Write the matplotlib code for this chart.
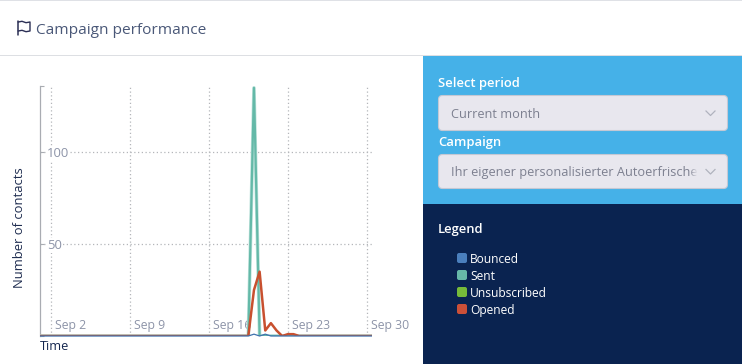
import matplotlib
matplotlib.use("Agg")
import matplotlib.pyplot as plt
import pandas as pd
from matplotlib.patches import FancyBboxPatch, Rectangle
from matplotlib.transforms import ScaledTranslation

plt.rcParams['font.family'] = ['Open Sans', 'DejaVu Sans']

# ---- data ----
dates = ["2019-09-01 00:00", "2019-09-19 11:00", "2019-09-19 23:00", "2019-09-20 11:00",
         "2019-09-20 23:00", "2019-09-21 11:00", "2019-09-21 23:00", "2019-09-22 11:00",
         "2019-09-22 23:00", "2019-09-23 11:00", "2019-09-23 23:00", "2019-09-30 10:00"]
sent         = [0, 0, 135, 0, 0, 0, 0, 0, 0, 0, 0, 0]
opened       = [0, 0, 25, 35, 3, 7, 3, 0, 1, 1, 0, 0]
bounced      = [0, 0, 1, 0, 1, 0, 0, 0, 0, 0, 0, 0]
unsubscribed = [0, 0, 0, 0, 0, 0, 0, 0, 0, 0, 0, 0]

x_ticks = ["2019-09-02", "2019-09-09", "2019-09-16", "2019-09-23", "2019-09-30"]
x_tick_labels = ["Sep 2", "Sep 9", "Sep 16", "Sep 23", "Sep 30"]
y_ticks = [50, 100]
legend_labels = ["Bounced", "Sent", "Unsubscribed", "Opened"]
legend_colors = ["#4a7fbd", "#66b8a8", "#77bb3a", "#cc5038"]

W, H = 742, 364
fig = plt.figure(figsize=(W / 100, H / 100), dpi=100, facecolor="white")

# ---- page furniture, in pixel coordinates ----
ui = fig.add_axes([0, 0, 1, 1], zorder=0)
ui.set_xlim(0, W)
ui.set_ylim(H, 0)
ui.axis("off")
px = 0.72

ui.add_patch(Rectangle((0, 0), W, 1.2, fc="#dfe1e6", ec="none"))
ui.add_patch(Rectangle((0, 55), W, 1.2, fc="#dddfe3", ec="none"))
ui.add_patch(Rectangle((423, 56), W - 423, 148, fc="#45b1e8", ec="none"))
ui.add_patch(Rectangle((423, 204), W - 423, 160, fc="#0a2350", ec="none"))

# header
ui.plot([18.4, 18.4], [21, 34.5], color="#2b2f55", lw=1.1, solid_capstyle="round")
ui.plot([18.4, 22, 26, 30, 30, 26, 22, 18.4], [22, 21.3, 22.7, 22, 31, 31.7, 30.3, 31],
        color="#2b2f55", lw=1.0)
ui.text(36.5, 30, "Campaign performance", fontsize=15.4 * px, color="#4a5878", va="center", ha="left")

# controls
def dropdown(y0, y1, text, fade_x=None):
    ui.add_patch(FancyBboxPatch((438.5 + 3, y0 + 3), 289 - 6, y1 - y0 - 6,
                                boxstyle="round,pad=3,rounding_size=4",
                                fc="#e8e7ee", ec="#c4c8d4", lw=0.8))
    cy = (y0 + y1) / 2
    ui.text(451, cy + 1, text, fontsize=12.8 * px, color="#7d8090", va="center", ha="left", zorder=3)
    if fade_x is not None:
        for i in range(8):
            ui.add_patch(Rectangle((fade_x + i, y0 + 2), 1.05, y1 - y0 - 4, fc="#e8e7ee", ec="none",
                                   alpha=min(1, (i + 1) / 8), zorder=4))
        ui.add_patch(Rectangle((fade_x + 8, y0 + 2), 8, y1 - y0 - 4, fc="#e8e7ee", ec="none", zorder=4))
    ui.plot([706, 710.5, 715], [cy - 2, cy + 2.5, cy - 2], color="#b0b3be", lw=0.9, zorder=5)

ui.text(438, 83.5, "Select period", fontsize=13 * px, color="white", weight="semibold", va="center")
dropdown(95.5, 130.5, "Current month")
ui.text(438, 142.5, "Campaign", fontsize=13 * px, color="white", weight="semibold", va="center")
dropdown(154.5, 188.5, "Ihr eigener personalisierter Autoerfrische", 690)

# legend
ui.text(438, 229.5, "Legend", fontsize=13 * px, color="white", weight="semibold", va="center")
for lab, col, cy in zip(legend_labels, legend_colors, [258, 275, 292, 309]):
    ui.add_patch(FancyBboxPatch((458, cy - 4), 8, 8, boxstyle="round,pad=1,rounding_size=2", fc=col, ec="none"))
    ui.text(470, cy + 1.5, lab, fontsize=12 * px, color="white", va="center", ha="left")

# ---- chart ----
ax = fig.add_axes([40 / W, (H - 336) / H, 332 / W, 250 / H], zorder=1)
ax.patch.set_alpha(0)
t = pd.to_datetime(dates)
common = dict(solid_capstyle="butt", solid_joinstyle="round")
ax.plot(t, sent, color="#bfe3dc", lw=2.6, zorder=3, **common)
ax.plot(t, sent, color="#64b9a8", lw=1.6, zorder=3.1, label="Sent", **common)
ax.plot(t, unsubscribed, color=legend_colors[2], lw=0.4, zorder=2.9, label="Unsubscribed", **common)
ax.plot(t, opened, color="#c8502f", lw=1.8, zorder=3.3, label="Opened", **common)
ax.plot(t, bounced, color="#3f72ad", lw=0.9, zorder=3.4, clip_on=False, label="Bounced", **common)

ax.set_xlim(pd.Timestamp("2019-09-01 00:00"), pd.Timestamp("2019-09-30 10:00"))
ax.set_ylim(0, 136)

ax.set_xticks(pd.to_datetime(x_ticks))
ax.set_xticklabels(x_tick_labels)
ax.set_yticks(y_ticks)
ax.set_yticks([0, 136], minor=True)
ax.grid(True, which="major", color="#b4b6ba", lw=0.9, ls=(0, (1, 2)))
ax.set_axisbelow(True)

ax.tick_params(axis="x", which="major", length=0, pad=-12, labelsize=12.3 * px, labelcolor="#8d94a8")
ax.tick_params(axis="y", which="major", direction="in", length=3, width=0.8, color="#a9acb2",
               pad=-5.2, labelsize=13 * px, labelcolor="#8d94a8")
ax.tick_params(axis="y", which="minor", direction="in", length=3, width=0.8, color="#a9acb2")
off = ScaledTranslation(4 / 100, 0, fig.dpi_scale_trans)
for lab in ax.get_xticklabels():
    lab.set_ha("left")
    lab.set_transform(lab.get_transform() + off)
for lab in ax.get_yticklabels():
    lab.set_ha("left")
    lab.set_bbox(dict(fc="white", ec="none", pad=0.5))

for s in ("top", "right", "bottom"):
    ax.spines[s].set_visible(False)
ax.spines["left"].set_color("#a9acb2")
ax.spines["left"].set_linewidth(0.9)

ax.set_ylabel("Number of contacts", fontsize=13 * px, color="#1f2d50")
ax.yaxis.set_label_coords((26.5 - 40) / 332, (336 - 228) / 250)
ax.set_xlabel("Time", fontsize=12.8 * px, color="#14264f", ha="left")
ax.xaxis.set_label_coords(0, -(347 - 336) / 250)
ax.xaxis.label.set_va("center")

fig.savefig("out.png", dpi=100)
